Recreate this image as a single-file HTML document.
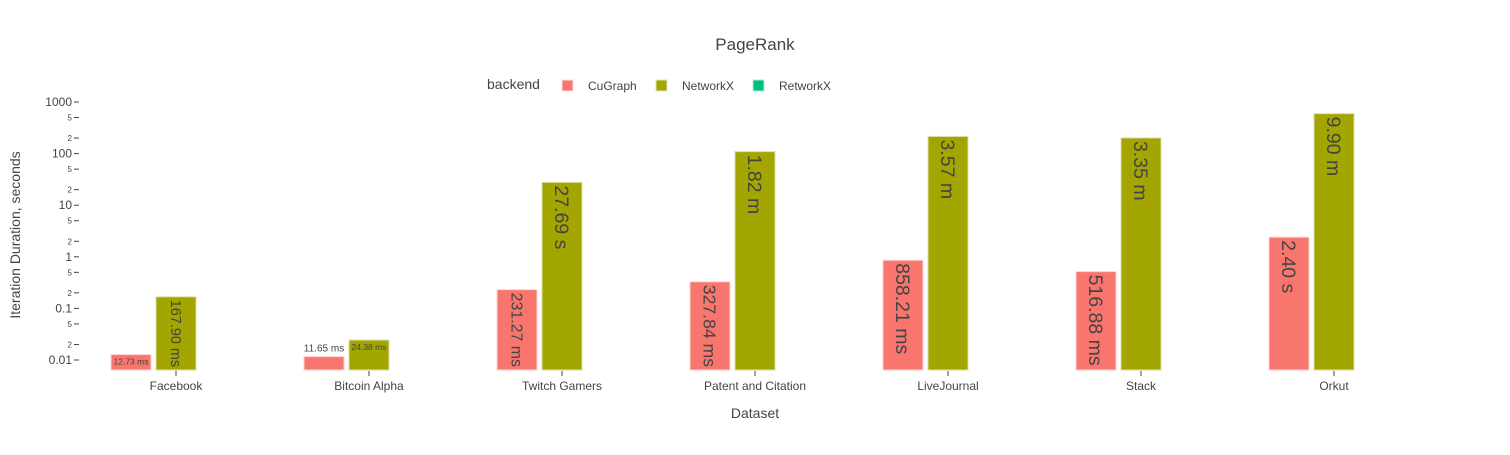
<!DOCTYPE html>
<html><head><meta charset="utf-8"><style>
body{margin:0;background:#fff;font-family:"Liberation Sans",Arial,sans-serif}
svg text{font-family:"Liberation Sans",Arial,sans-serif}
</style></head><body>
<svg id="c" width="1510" height="450" xmlns="http://www.w3.org/2000/svg">
<text x="755" y="50" text-anchor="middle" font-size="17" fill="#444">PageRank</text>
<g>
<text x="487" y="89" font-size="14" fill="#444">backend</text>
<g><rect x="562" y="80" width="11" height="11" fill="#F8766D" stroke="#fbe0dd"/><text x="588" y="90" font-size="12" fill="#444">CuGraph</text></g>
<g><rect x="656" y="80" width="11" height="11" fill="#A3A500" stroke="#e6e6b0"/><text x="682" y="90" font-size="12" fill="#444">NetworkX</text></g>
<g><rect x="753" y="80" width="11" height="11" fill="#00BF7D" stroke="#b0ecd6"/><text x="779" y="90" font-size="12" fill="#444">RetworkX</text></g>
</g>
<text transform="translate(20,235) rotate(-90)" text-anchor="middle" font-size="14" fill="#444">Iteration Duration, seconds</text>
<text x="755" y="418" text-anchor="middle" font-size="14" fill="#444">Dataset</text>
<g id="yaxis"></g>
<g id="xaxis"></g>
<g id="bars"></g>
</svg>
<script>
const categories=["Facebook","Bitcoin Alpha","Twitch Gamers","Patent and Citation","LiveJournal","Stack","Orkut"];
const cugraphValues=[0.01273,0.01165,0.23127,0.32784,0.85821,0.51688,2.40];
const networkxValues=[0.1679,0.02438,27.69,109.2,214.2,201.0,594.0];
const cugraphLabels=["12.73 ms","11.65 ms","231.27 ms","327.84 ms","858.21 ms","516.88 ms","2.40 s"];
const networkxLabels=["167.90 ms","24.38 ms","27.69 s","1.82 m","3.57 m","3.35 m","9.90 m"];
const majorTicks=[0.01,0.1,1,10,100,1000];
const majorTickLabels=["0.01","0.1","1","10","100","1000"];

const NS="http://www.w3.org/2000/svg";
const base=370;
function y(v){return 360-(Math.log10(v)+2)*51.6;}
function x(i){return 176+i*193;}
function mk(t,a,p){const e=document.createElementNS(NS,t);for(const k in a)e.setAttribute(k,a[k]);p.appendChild(e);return e;}
const ya=document.getElementById('yaxis'),xa=document.getElementById('xaxis'),bg=document.getElementById('bars');
majorTicks.forEach((v,i)=>{
  const t=mk('text',{x:72,y:y(v)+4,'text-anchor':'end','font-size':12,fill:'#444'},ya);
  t.textContent=majorTickLabels[i];
  
  
  mk('line',{x1:74,x2:79,y1:y(v),y2:y(v),stroke:'#444'},ya);
  if(v<1000){[2,5].forEach(m=>{
    const mv=v*m;
    const mt=mk('text',{x:72,y:y(mv)+3,'text-anchor':'end','font-size':8,fill:'#444'},ya);
    mt.textContent=String(m);
    
    
    mk('line',{x1:74,x2:79,y1:y(mv),y2:y(mv),stroke:'#444'},ya);
  });}
});
categories.forEach((c,i)=>{
  mk('line',{x1:x(i),x2:x(i),y1:371,y2:376,stroke:'#444'},xa);
  const t=mk('text',{x:x(i),y:390,'text-anchor':'middle','font-size':12,fill:'#444'},xa);
  t.textContent=c;
  
  
});
function bar(cx,v,lab,col,stroke,name){
  const top=y(v),h=base-top;
  const r=mk('rect',{x:cx-20,y:top,width:40,height:h,fill:col,stroke:stroke,'stroke-width':1},bg);
  
  
  let t;
  if(h>50){
    let fs=Math.min(19.5,(h-5)/(lab.length*0.525));
    t=mk('text',{transform:`translate(${cx-fs*0.36},${top+3}) rotate(90)`,'font-size':fs,fill:'#444'},bg);
  }else if(h>=14){
    t=mk('text',{x:cx,y:top+10,'text-anchor':'middle','font-size':8.5,fill:'#444'},bg);
  }else{
    t=mk('text',{x:cx,y:top-5,'text-anchor':'middle','font-size':10,fill:'#444'},bg);
  }
  t.textContent=lab;
  
  
}
categories.forEach((c,i)=>{
  bar(x(i)-45,cugraphValues[i],cugraphLabels[i],'#F8766D','#fbd5d1','bar-cugraph');
  bar(x(i),networkxValues[i],networkxLabels[i],'#A3A500','#dedea8','bar-networkx');
});
</script>
</body></html>
